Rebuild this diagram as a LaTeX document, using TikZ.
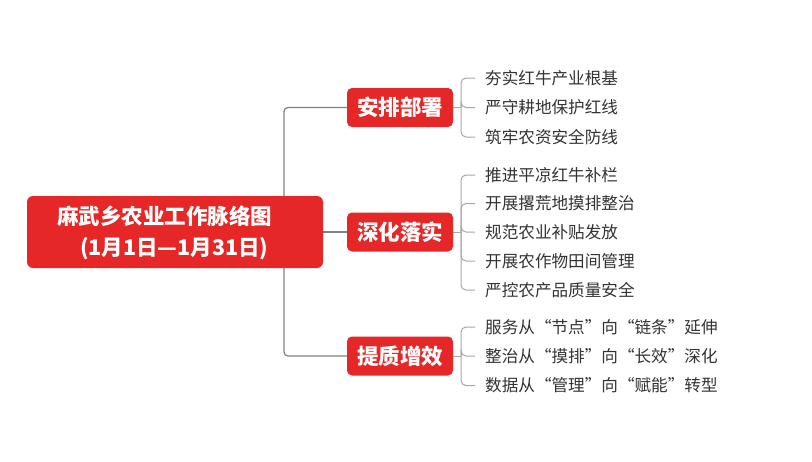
\documentclass[tikz,border=0pt]{standalone}
\usepackage{fontspec}
\newfontfamily\cjk{Noto Sans CJK SC}
\usetikzlibrary{backgrounds}
\definecolor{boxred}{HTML}{E52727}
\definecolor{txt}{HTML}{333333}
\definecolor{linegray}{HTML}{808080}
\definecolor{brkgray}{HTML}{A8A8A8}
\begin{document}
\begin{tikzpicture}[x=1pt,y=-1pt,
  redbox/.style={fill=boxred, rounded corners=5pt, text=white, font=\cjk\bfseries\fontsize{21.5}{26}\selectfont, minimum width=106pt, minimum height=39pt, inner sep=0pt},
  rootbox/.style={fill=boxred, rounded corners=6pt, minimum width=296pt, minimum height=72pt, inner sep=0pt},
  roottext/.style={text=white, font=\cjk\bfseries\fontsize{21.5}{31}\selectfont, align=left, inner sep=0pt, anchor=west},
  leaf/.style={anchor=west, text=txt, font=\cjk\fontsize{16.6}{20}\selectfont, inner xsep=10pt, inner ysep=0pt},
  trunk/.style={draw=linegray, line width=1.2pt, rounded corners=4pt},
  brk/.style={draw=brkgray, line width=1pt, rounded corners=5pt}]
\useasboundingbox (0,0) rectangle (812,461);

\node[rootbox] (root) at (175,232) {};
\node[roottext] (title) at (57,232.5) {麻武乡农业工作脉络图\\\hspace*{23pt}(1月1日—1月31日)};

\node[redbox] (la) at (400,107.5) {安排部署};
\node[redbox] (lb) at (400,232) {深化落实};
\node[redbox] (lc) at (400,356) {提质增效};

\node[leaf] (a1) at (475,78) {夯实红牛产业根基};
\node[leaf] (a2) at (475,107.5) {严守耕地保护红线};
\node[leaf] (a3) at (475,137) {筑牢农资安全防线};

\node[leaf] (b1) at (475,175) {推进平凉红牛补栏};
\node[leaf] (b2) at (475,203.5) {开展撂荒地摸排整治};
\node[leaf] (b3) at (475,232) {规范农业补贴发放};
\node[leaf] (b4) at (475,261) {开展农作物田间管理};
\node[leaf] (b5) at (475,290) {严控农产品质量安全};

\node[leaf] (c1) at (475,327) {服务从“节点”向“链条”延伸};
\node[leaf] (c2) at (475,356) {整治从“摸排”向“长效”深化};
\node[leaf] (c3) at (475,385.5) {数据从“管理”向“赋能”转型};

\coordinate (ba) at (461,107.5);
\coordinate (bb) at (461,232);
\coordinate (bc) at (461,356);

\begin{pgfonlayer}{background}
\fill[white] (0,0) rectangle (812,461);
\draw[trunk] (la.west) -| (284,232) |- (lc.west);
\draw[trunk] (root.east) -- (lb.west);

\draw[brk] (la.east) -- (ba);
\foreach \n in {a1,a2,a3} \draw[brk] (ba) |- (\n.west);
\draw[brk] (lb.east) -- (bb);
\foreach \n in {b1,b2,b3,b4,b5} \draw[brk] (bb) |- (\n.west);
\draw[brk] (lc.east) -- (bc);
\foreach \n in {c1,c2,c3} \draw[brk] (bc) |- (\n.west);
\end{pgfonlayer}
\end{tikzpicture}
\end{document}
